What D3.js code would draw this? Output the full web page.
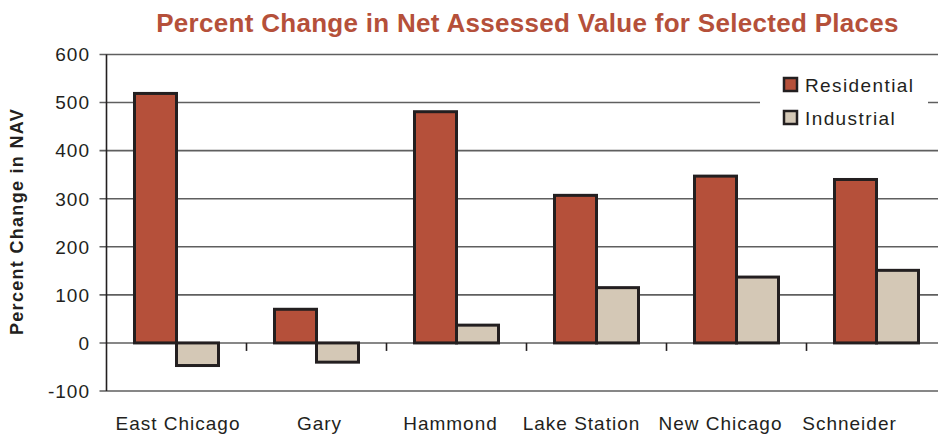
<!DOCTYPE html>
<html>
<head>
<meta charset="utf-8">
<script src="https://cdn.jsdelivr.net/npm/d3@7"></script>
<style>
  body { margin: 0; background: #fff; }
  svg { display: block; font-family: "Liberation Sans", Arial, sans-serif; }
</style>
</head>
<body>
<div id="chart"></div>
<script>
const places = ["East Chicago", "Gary", "Hammond", "Lake Station", "New Chicago", "Schneider"];
const residential = [519, 70, 481, 307, 347, 340];
const industrial = [-47, -40, 37, 115, 137, 151];
const seriesNames = ["Residential", "Industrial"];
const yTicks = [-100, 0, 100, 200, 300, 400, 500, 600];

const width = 938, height = 435;
const plotLeft = 106.5, plotRight = 946.5, plotTop = 54.5, plotBottom = 391;
const colors = ["#b5503a", "#d4c8b6"];
// labels in the source are nudged left near the clipped right edge
const labelShift = [1.5, 3, -6, -15, -16, -27];

const svg = d3.select("#chart").append("svg")
    .attr("width", width)
    .attr("height", height);

const x = d3.scaleBand().domain(places).range([plotLeft, plotRight])
    .paddingInner(0.4).paddingOuter(0.2);
const xs = d3.scaleBand().domain(seriesNames).range([0, x.bandwidth()]);
const y = d3.scaleLinear().domain([-100, 600]).range([plotBottom, plotTop]);

// gridlines + tick marks
svg.selectAll("line.grid")
    .data(yTicks)
    .enter()
    .append("line")
    .attr("x1", plotLeft - 7)
    .attr("x2", width)
    .attr("y1", d => y(d))
    .attr("y2", d => y(d))
    .attr("stroke", "#5f5f5f")
    .attr("stroke-width", 1.6);

// y tick labels
svg.selectAll("text.ytick")
    .data(yTicks)
    .enter()
    .append("text")
    .attr("x", 90)
    .attr("y", d => y(d))
    .attr("dy", "0.36em")
    .attr("text-anchor", "end")
    .attr("font-size", 19)
    .attr("letter-spacing", 1)
    .attr("fill", "#231f20")
    .text(d => d);

// y axis line
svg.append("line")
    .attr("x1", plotLeft).attr("x2", plotLeft)
    .attr("y1", y(600)).attr("y2", y(-100))
    .attr("stroke", "#231f20")
    .attr("stroke-width", 1.6);

// category separator ticks on the zero line
const seps = places.slice(1).map(p => x(p) - x.step() * x.paddingInner() / 2);
svg.selectAll("line.sep")
    .data(seps)
    .enter()
    .append("line")
    .attr("x1", d => d).attr("x2", d => d)
    .attr("y1", y(0)).attr("y2", y(0) + 8)
    .attr("stroke", "#231f20")
    .attr("stroke-width", 1.6);

// bars
const rows = places.map((p, i) => ({ place: p, values: [residential[i], industrial[i]] }));
const groups = svg.selectAll("g.place")
    .data(rows)
    .enter()
    .append("g")
    .attr("transform", d => `translate(${x(d.place)},0)`);

groups.selectAll("rect")
    .data(d => d.values.map((v, j) => ({ name: seriesNames[j], value: v, j: j })))
    .enter()
    .append("rect")
    .attr("x", d => xs(d.name))
    .attr("width", xs.bandwidth())
    .attr("y", d => y(Math.max(0, d.value)))
    .attr("height", d => Math.abs(y(d.value) - y(0)))
    .attr("fill", d => colors[d.j])
    .attr("stroke", "#231f20")
    .attr("stroke-width", 3);

// category labels
svg.selectAll("text.cat")
    .data(places)
    .enter()
    .append("text")
    .attr("x", (d, i) => x(d) + x.bandwidth() / 2 + labelShift[i])
    .attr("y", 430)
    .attr("text-anchor", "middle")
    .attr("font-size", 19)
    .attr("letter-spacing", 1)
    .attr("fill", "#231f20")
    .text(d => d);

// y axis title
svg.append("text")
    .attr("transform", "translate(23,221.5) rotate(-90)")
    .attr("text-anchor", "middle")
    .attr("font-size", 18)
    .attr("font-weight", "bold")
    .attr("letter-spacing", 1.3)
    .attr("fill", "#231f20")
    .text("Percent Change in NAV");

// chart title
svg.append("text")
    .attr("x", 527.5)
    .attr("y", 31.5)
    .attr("text-anchor", "middle")
    .attr("font-size", 26)
    .attr("font-weight", "bold")
    .attr("letter-spacing", 0.3)
    .attr("fill", "#b5503a")
    .text("Percent Change in Net Assessed Value for Selected Places");

// legend
const legend = svg.append("g");
legend.append("rect")
    .attr("x", 760).attr("y", 64)
    .attr("width", 168).attr("height", 80)
    .attr("fill", "#fff");
const li = legend.selectAll("g.item")
    .data(seriesNames)
    .enter()
    .append("g")
    .attr("transform", (d, i) => `translate(784,${78 + i * 33})`);
li.append("rect")
    .attr("width", 13).attr("height", 13)
    .attr("fill", (d, i) => colors[i])
    .attr("stroke", "#231f20")
    .attr("stroke-width", 2.5);
li.append("text")
    .attr("x", 21)
    .attr("y", 7)
    .attr("dy", "0.36em")
    .attr("font-size", 19)
    .attr("letter-spacing", 1.4)
    .attr("fill", "#231f20")
    .text(d => d);
</script>
</body>
</html>
